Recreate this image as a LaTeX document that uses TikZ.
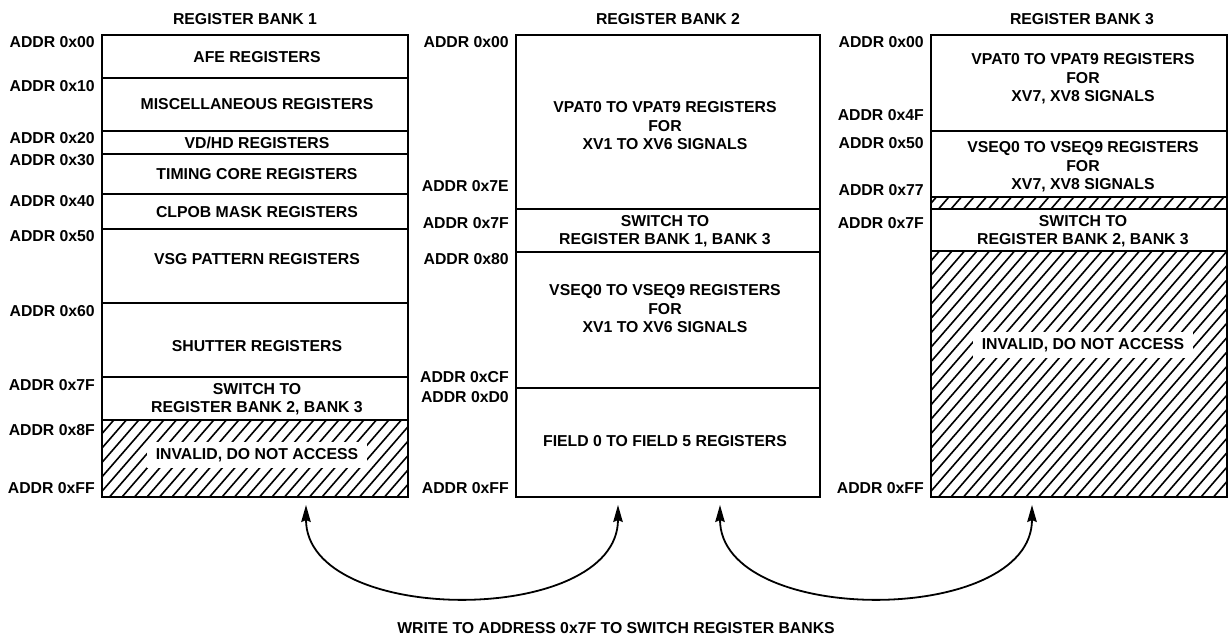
\documentclass[tikz,border=0pt]{standalone}
\usepackage{fontspec}
\setmainfont{Liberation Sans}
\usetikzlibrary{arrows.meta}
\tikzset{
  bankframe/.style={line width=2.3pt},
  divider/.style={line width=1.7pt},
  hatchline/.style={line width=1.6pt},
  lbl/.style={font=\bfseries\fontsize{15.8}{18.5}\selectfont, inner sep=0pt, align=center},
  addr/.style={lbl, anchor=east},
  invalid/.style={lbl, fill=white, inner xsep=9pt, inner ysep=6pt},
  tipstyle/.style={line width=1.8pt},
  swarrow/.style={tipstyle, {Stealth[length=17pt,width=9.5pt,inset=2pt]}-{Stealth[length=17pt,width=9.5pt,inset=2pt]}},
}
\newcommand{\hatchbox}[4]{%
  \begin{scope}
    \clip (#1,#2) rectangle (#3,#4);
    \foreach \k in {0,...,45}
      \draw[hatchline] ({#1-230+\k*12.5},{#4}) -- ++(230,-265);
  \end{scope}}
\begin{document}
\begin{tikzpicture}[x=1pt,y=-1pt]
\useasboundingbox (0,0) rectangle (1229,637);

% ---------- hatching ----------
\hatchbox{102}{420}{408}{497}
\hatchbox{931}{197}{1227}{209}
\hatchbox{931}{251}{1227}{497}

% ---------- dividers ----------
\foreach \y in {78,131,154,194,229,303,377,420}
  \draw[divider] (102,\y) -- (408,\y);
\foreach \y in {209,252,388}
  \draw[divider] (516,\y) -- (820,\y);
\foreach \y in {131,197,209,251}
  \draw[divider] (931,\y) -- (1227,\y);

% ---------- frames ----------
\draw[bankframe] (102,35) rectangle (408,497);
\draw[bankframe] (516,35) rectangle (820,497);
\draw[bankframe] (931,35) rectangle (1227,497);

% ---------- titles ----------
\node[lbl] (t1) at (245,19) {REGISTER BANK 1};
\node[lbl] (t2) at (668,19) {REGISTER BANK 2};
\node[lbl] (t3) at (1082,19) {REGISTER BANK 3};

% ---------- bank 1 ----------
\node[lbl] (b1afe)  at (257,57)  {AFE REGISTERS};
\node[lbl] (b1misc) at (257,104) {MISCELLANEOUS REGISTERS};
\node[lbl] (b1vdhd) at (257,143) {VD/HD REGISTERS};
\node[lbl] (b1tim)  at (257,174) {TIMING CORE REGISTERS};
\node[lbl] (b1clp)  at (257,212) {CLPOB MASK REGISTERS};
\node[lbl] (b1vsg)  at (257,259) {VSG PATTERN REGISTERS};
\node[lbl] (b1shu)  at (257,346) {SHUTTER REGISTERS};
\node[lbl] (b1sw)   at (257,399) {SWITCH TO\\REGISTER BANK 2, BANK 3};
\node[invalid] (b1inv) at (257,455) {INVALID, DO NOT ACCESS};

\node[addr] (a1a) at (95,42)  {ADDR 0x00};
\node[addr] (a1b) at (95,86)  {ADDR 0x10};
\node[addr] (a1c) at (95,138) {ADDR 0x20};
\node[addr] (a1d) at (95,160) {ADDR 0x30};
\node[addr] (a1e) at (95,201) {ADDR 0x40};
\node[addr] (a1f) at (95,236) {ADDR 0x50};
\node[addr] (a1g) at (95,311) {ADDR 0x60};
\node[addr] (a1h) at (95,385) {ADDR 0x7F};
\node[addr] (a1i) at (95,430) {ADDR 0x8F};
\node[addr] (a1j) at (95,488) {ADDR 0xFF};

% ---------- bank 2 ----------
\node[lbl] (b2vpat) at (665,126) {VPAT0 TO VPAT9 REGISTERS\\FOR\\XV1 TO XV6 SIGNALS};
\node[lbl] (b2sw)   at (665,231) {SWITCH TO\\REGISTER BANK 1, BANK 3};
\node[lbl] (b2vseq) at (665,309) {VSEQ0 TO VSEQ9 REGISTERS\\FOR\\XV1 TO XV6 SIGNALS};
\node[lbl] (b2fld)  at (665,441) {FIELD 0 TO FIELD 5 REGISTERS};

\node[addr] (a2a) at (509,42)  {ADDR 0x00};
\node[addr] (a2b) at (509,186) {ADDR 0x7E};
\node[addr] (a2c) at (509,223) {ADDR 0x7F};
\node[addr] (a2d) at (509,259) {ADDR 0x80};
\node[addr] (a2e) at (509,377) {ADDR 0xCF};
\node[addr] (a2f) at (509,397) {ADDR 0xD0};
\node[addr] (a2g) at (509,488) {ADDR 0xFF};

% ---------- bank 3 ----------
\node[lbl] (b3vpat) at (1083,79)  {VPAT0 TO VPAT9 REGISTERS\\FOR\\XV7, XV8 SIGNALS};
\node[lbl] (b3vseq) at (1083,167) {VSEQ0 TO VSEQ9 REGISTERS\\FOR\\XV7, XV8 SIGNALS};
\node[lbl] (b3sw)   at (1083,231) {SWITCH TO\\REGISTER BANK 2, BANK 3};
\node[invalid] (b3inv) at (1083,345) {INVALID, DO NOT ACCESS};

\node[addr] (a3a) at (924,42)  {ADDR 0x00};
\node[addr] (a3b) at (924,115) {ADDR 0x4F};
\node[addr] (a3c) at (924,143) {ADDR 0x50};
\node[addr] (a3d) at (924,190) {ADDR 0x77};
\node[addr] (a3e) at (924,223) {ADDR 0x7F};
\node[addr] (a3f) at (924,488) {ADDR 0xFF};

% ---------- arrows ----------
\coordinate (p1) at (306,505);
\coordinate (p2) at (618,505);
\coordinate (p3) at (720,505);
\coordinate (p4) at (1032,505);
\draw[swarrow] (p1) to[out=-90,in=-90,looseness=1] (p2);
\draw[swarrow] (p3) to[out=-90,in=-90,looseness=1] (p4);

\node[lbl] (note) at (616,628) {WRITE TO ADDRESS 0x7F TO SWITCH REGISTER BANKS};
\end{tikzpicture}
\end{document}
